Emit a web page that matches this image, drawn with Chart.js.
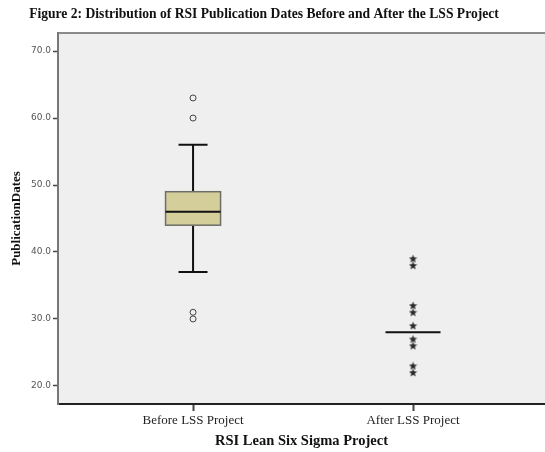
<!DOCTYPE html>
<html><head><meta charset="utf-8">
<script src="https://cdn.jsdelivr.net/npm/chart.js@4"></script>
<style>html,body{margin:0;padding:0;background:#fff;}</style>
</head><body>
<canvas id="c" width="545" height="452"></canvas>
<script>
const chartTitle = 'Figure 2: Distribution of RSI Publication Dates Before and After the LSS Project';
const xAxisTitle = 'RSI Lean Six Sigma Project';
const yAxisTitle = 'PublicationDates';
const categories = ['Before LSS Project', 'After LSS Project'];
const whiskerLow = [37, 28];
const q1 = [44, 28];
const median = [46, 28];
const q3 = [49, 28];
const whiskerHigh = [56, 28];
const outliersBefore = [63, 60, 31, 30];
const extremesAfter = [39, 38, 32, 31, 29, 27, 26, 23, 22];
const yTicks = [20, 30, 40, 50, 60, 70];

const starImg = (() => {
  const c = document.createElement('canvas'); c.width = 9; c.height = 9;
  const g = c.getContext('2d'); g.fillStyle = '#2a2a2a'; g.beginPath();
  for (let i = 0; i < 10; i++) {
    const r = i % 2 ? 1.9 : 4.3; const a = -Math.PI / 2 + i * Math.PI / 5;
    g.lineTo(4.5 + r * Math.cos(a), 4.9 + r * Math.sin(a));
  }
  g.closePath(); g.fill(); return c;
})();

const boxPlugin = {
  id: 'box',
  beforeDraw(chart) {
    const {ctx, chartArea: a} = chart;
    ctx.save();
    ctx.fillStyle = '#efefef';
    ctx.fillRect(a.left, a.top, a.right - a.left, a.bottom - a.top);
    ctx.strokeStyle = '#8a8a8a'; ctx.lineWidth = 2;
    ctx.beginPath(); ctx.moveTo(a.left, a.top); ctx.lineTo(a.right, a.top); ctx.stroke();
    ctx.restore();
  },
  beforeDatasetsDraw(chart) {
    const {ctx} = chart; const xs = chart.scales.x, ys = chart.scales.y;
    const half = 27.5, cap = 14.5;
    ctx.save();
    categories.forEach((c, i) => {
      const x = xs.getPixelForValue(i + 1);
      const yq1 = ys.getPixelForValue(q1[i]), yq3 = ys.getPixelForValue(q3[i]);
      const ylo = ys.getPixelForValue(whiskerLow[i]), yhi = ys.getPixelForValue(whiskerHigh[i]);
      const ym = ys.getPixelForValue(median[i]);
      ctx.strokeStyle = '#111'; ctx.lineWidth = 2;
      if (yhi < yq3) {
        ctx.beginPath();
        ctx.moveTo(x, yq3); ctx.lineTo(x, yhi);
        ctx.moveTo(x - cap, yhi); ctx.lineTo(x + cap, yhi);
        ctx.moveTo(x, yq1); ctx.lineTo(x, ylo);
        ctx.moveTo(x - cap, ylo); ctx.lineTo(x + cap, ylo);
        ctx.stroke();
      }
      if (yq1 - yq3 > 0.5) {
        ctx.fillStyle = '#d3ce9a';
        ctx.fillRect(x - half, yq3, 2 * half, yq1 - yq3);
        ctx.strokeStyle = '#6e6e66'; ctx.lineWidth = 1.5;
        ctx.strokeRect(x - half, yq3, 2 * half, yq1 - yq3);
      }
      ctx.strokeStyle = '#111'; ctx.lineWidth = 2;
      ctx.beginPath(); ctx.moveTo(x - half, ym); ctx.lineTo(x + half, ym); ctx.stroke();
    });
    ctx.restore();
  },
  afterDraw(chart) {
    const {ctx} = chart;
    ctx.save();
    ctx.fillStyle = '#111';
    ctx.font = 'bold 13.6px "Liberation Serif", "Times New Roman", serif';
    ctx.textAlign = 'center'; ctx.textBaseline = 'middle';
    ctx.fillText(chartTitle, 264, 14);
    ctx.restore();
  }
};

new Chart(document.getElementById('c'), {
  type: 'scatter',
  data: {
    datasets: [
      { data: outliersBefore.map(v => ({x: 1, y: v})), pointStyle: 'circle', radius: 3, hoverRadius: 3,
        borderColor: '#444', backgroundColor: 'rgba(0,0,0,0)', borderWidth: 1 },
      { data: extremesAfter.map(v => ({x: 2, y: v})), pointStyle: starImg, radius: 4, hoverRadius: 4 }
    ]
  },
  options: {
    responsive: false, animation: false, devicePixelRatio: 1,
    layout: { autoPadding: false, padding: { top: 33, right: 0, left: 0, bottom: 0 } },
    plugins: { legend: { display: false }, tooltip: { enabled: false }, title: { display: false } },
    scales: {
      x: {
        type: 'linear', min: 0.386, max: 2.6,
        afterBuildTicks(s) { s.ticks = categories.map((c, i) => ({value: i + 1})); },
        afterFit(s) { s.height = 48; s.paddingLeft = 0; s.paddingRight = 0; },
        ticks: { autoSkip: false, maxRotation: 0, padding: 2, color: '#222',
          font: { family: '"Liberation Serif", "Times New Roman", serif', size: 13 },
          callback: (v) => categories[Math.round(v) - 1] },
        grid: { drawOnChartArea: false, tickLength: 7, color: '#444', tickWidth: 2 },
        border: { color: '#222', width: 2 },
        title: { display: true, text: xAxisTitle, color: '#111', padding: { top: 0, bottom: 2 },
          font: { family: '"Liberation Serif", "Times New Roman", serif', size: 14.5, weight: 'bold' } }
      },
      y: {
        type: 'linear', min: 17.3, max: 72.7,
        afterBuildTicks(s) { s.ticks = yTicks.map(v => ({value: v})); },
        afterFit(s) { s.width = 58; s.paddingTop = 0; s.paddingBottom = 0; },
        ticks: { padding: 2, color: '#555', font: { family: '"DejaVu Sans", sans-serif', size: 9 },
          callback: (v) => Number(v).toFixed(1) },
        grid: { drawOnChartArea: false, tickLength: 5, color: '#444', tickWidth: 1.5 },
        border: { color: '#777', width: 2 },
        title: { display: true, text: yAxisTitle, color: '#111', padding: { top: 9, bottom: 0 },
          font: { family: '"Liberation Serif", "Times New Roman", serif', size: 13, weight: 'bold' } }
      }
    }
  },
  plugins: [boxPlugin]
});
</script>
</body></html>
